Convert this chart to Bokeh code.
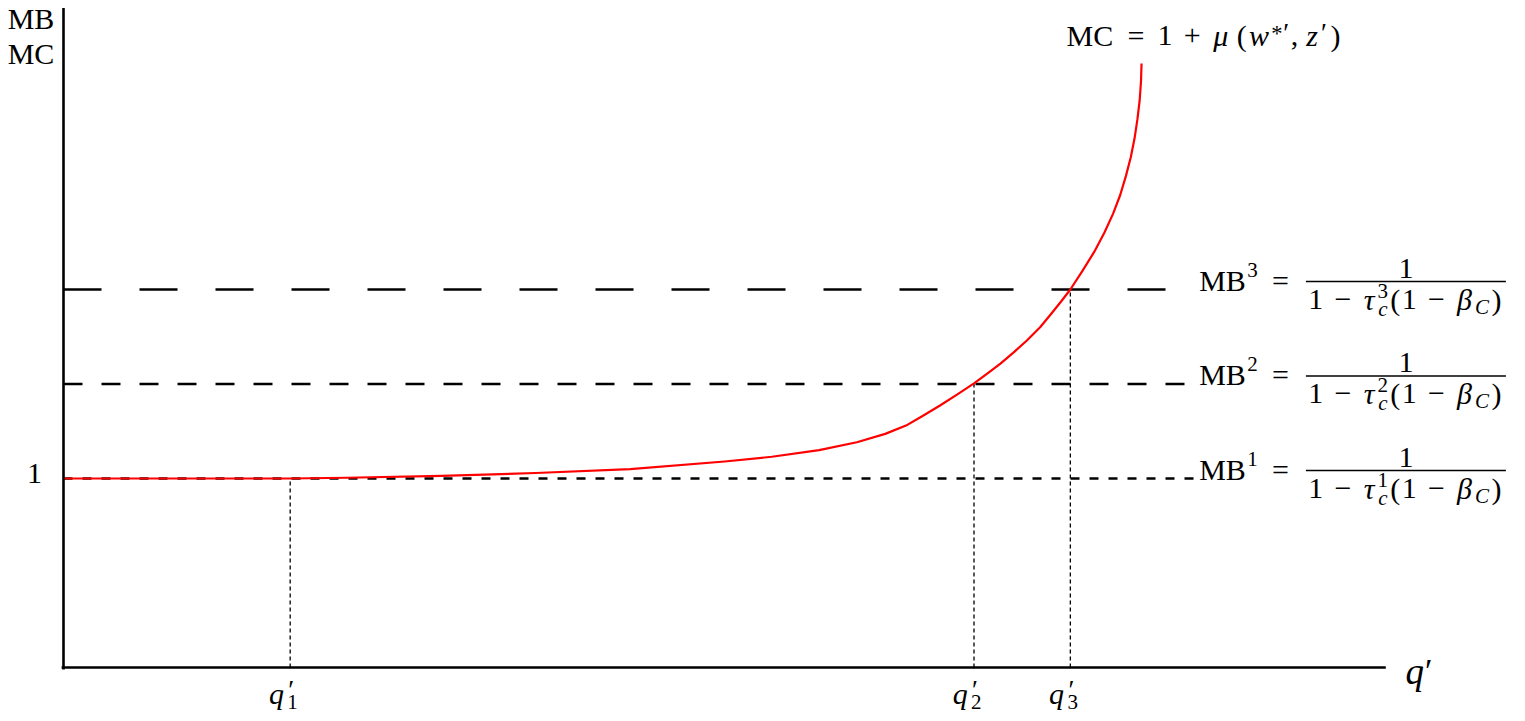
from bokeh.plotting import figure
from bokeh.models import Range1d, ColumnDataSource
from bokeh.embed import file_html
from bokeh.resources import INLINE
from bokeh.core.properties import value

# ---------------- data ----------------
q_curve = [0.00, 1.20, 1.50, 2.00, 2.50, 3.00, 3.50, 3.75, 4.00, 4.20, 4.35, 4.46,
           4.55, 4.64, 4.73, 4.82, 4.89, 4.96, 5.03, 5.10, 5.17, 5.23, 5.28, 5.33,
           5.395, 5.457, 5.510, 5.556, 5.594, 5.624, 5.650, 5.670, 5.685, 5.697,
           5.704, 5.707]
mc_curve = [1.000, 1.000, 1.004, 1.014, 1.029, 1.050, 1.090, 1.115, 1.150, 1.192,
            1.236, 1.280, 1.332, 1.386, 1.444, 1.503, 1.555, 1.608, 1.667, 1.730,
            1.800, 1.873, 1.935, 2.000, 2.100, 2.200, 2.300, 2.400, 2.500, 2.600,
            2.700, 2.800, 2.900, 3.000, 3.100, 3.196]
mb_levels = [1.0, 1.5, 2.0]
mb_index = ["1", "2", "3"]
q_star = [1.20, 4.82, 5.33]
q_index = ["1", "2", "3"]
x_axis_end = 7.0
y_axis_top = 3.49
mb_line_end = 6.0

# ---------------- layout ----------------
W, H = 1525, 721
SX, SY = 188.9, 189.0          # px per data unit
X0, Y0 = 63.0, 667.0           # canvas px of the data origin
F = 30                          # base font px
S = 31.5                        # layout px per em
BASE_CORR = -0.27               # baseline correction (fraction of font size)

p = figure(width=W, height=H, output_backend="svg", toolbar_location=None,
           x_axis_type=None, y_axis_type=None, min_border=0,
           x_range=Range1d(-X0 / SX, (W - X0) / SX),
           y_range=Range1d((Y0 - H) / SY, Y0 / SY),
           outline_line_color=None, background_fill_color="white",
           border_fill_color="white")

# MB dashed lines
mb_dash = ["9 10", "19 19", "38 38"]
for lev, dash in zip(mb_levels, mb_dash):
    p.line([0, mb_line_end], [lev, lev], line_color="black", line_width=2.6,
           line_dash=dash)

# vertical dotted drop lines
p.segment(x0=q_star, y0=[0] * 3, x1=q_star, y1=mb_levels, line_color="black",
          line_width=1.3, line_dash="4 3")

# MC curve
p.line(q_curve, mc_curve, line_color="#ff0000", line_width=2.2, line_join="round")

# axes
p.line([-0.01, x_axis_end], [0, 0], line_color="black", line_width=2.6)
p.line([0, 0], [-0.01, y_axis_top], line_color="black", line_width=2.6)

# ---------------- text pieces ----------------
rows = dict(x=[], y=[], text=[], xo=[], yo=[], size=[], style=[])


def put(x, y, text, xo, yo, size=F, style="normal"):
    rows["x"].append(x)
    rows["y"].append(y)
    rows["text"].append(text)
    rows["xo"].append(xo)
    rows["yo"].append(yo + BASE_CORR * size)
    rows["size"].append("%.1fpx" % size)
    rows["style"].append(style)


def run(x, y, xo_start, yo_base, items):
    pos = xo_start
    for it in items:
        text, gap, w = it[0], it[1], it[2]
        style = it[3] if len(it) > 3 else "normal"
        scale = it[4] if len(it) > 4 else 1.0
        dy = it[5] if len(it) > 5 else 0
        adv = it[6] if len(it) > 6 else True
        pos += gap * S
        put(x, y, text, pos + w * S / 2, yo_base + dy, F * scale, style)
        if adv:
            pos += w * S


bars_x0, bars_x1, bars_y = [], [], []
for lev, k in zip(mb_levels, mb_index):
    run(mb_line_end, lev, 2, -1, [
        ("MB", 0, 1.5),
        (k, 0.0, 0.4, "normal", 0.7, -13),
        ("=", 0.3, 0.778),
    ])
    bars_x0.append(mb_line_end + 109 / SX)
    bars_x1.append(mb_line_end + 309 / SX)
    bars_y.append(lev + 8 / SY)
    put(mb_line_end, lev, "1", 209, -13)
    run(mb_line_end, lev, 111, 18, [
        ("1", 0, 0.5),
        ("\u2212", 0.222, 0.778),
        ("\u03c4", 0.222, 0.437, "italic"),
        (k, 0.02, 0.4, "normal", 0.7, -11, False),
        ("c", 0.0, 0.4, "italic", 0.7, 7),
        ("(", 0, 0.389),
        ("1", 0, 0.5),
        ("\u2212", 0.222, 0.778),
        ("\u03b2", 0.222, 0.566, "italic"),
        ("C", 0, 0.54, "italic", 0.7, 5),
        (")", 0, 0.389),
    ])

p.segment(x0=bars_x0, y0=bars_y, x1=bars_x1, y1=bars_y, line_color="black",
          line_width=1.3)

# MC label at the top of the curve
run(q_curve[-1], mc_curve[-1], -76, -20, [
    ("MC", 0, 1.55),
    ("=", 0.3, 0.778),
    ("1", 0.278, 0.5),
    ("+", 0.222, 0.778),
    ("\u03bc", 0.222, 0.603, "italic"),
    ("(", 0.167, 0.389),
    ("w", 0, 0.716, "italic"),
    ("*", 0.03, 0.35, "normal", 0.75, -4),
    ("\u2032", 0.0, 0.25, "normal", 0.9, -3),
    (",", 0, 0.278),
    ("z", 0.167, 0.5, "italic"),
    ("\u2032", 0.0, 0.25, "normal", 0.9, -3),
    (")", 0.05, 0.389),
])

# q' labels under the axis
for qv, k in zip(q_star, q_index):
    run(qv, 0, -21, 34, [
        ("q", 0, 0.46, "italic"),
        ("\u2032", 0.04, 0.4, "normal", 0.9, -4, False),
        (k, 0.04, 0.4, "normal", 0.7, 6),
    ])

# axis titles and tick label
put(x_axis_end, 0, "q", 29, 14, 37, "italic")
put(x_axis_end, 0, "\u2032", 43, 12, 34)
put(0, y_axis_top, "MB", -32.5, 19)
put(0, y_axis_top, "MC", -32.5, 54)
put(0, 1.0, "1", -29, 3)

src = ColumnDataSource(rows)
p.text(x="x", y="y", text="text", x_offset="xo", y_offset="yo",
       text_font_size="size", text_font_style="style",
       text_font=value("Liberation Serif"), text_align="center",
       text_baseline="alphabetic", text_color="black", source=src)

open("out.html", "w").write(file_html(p, INLINE))
